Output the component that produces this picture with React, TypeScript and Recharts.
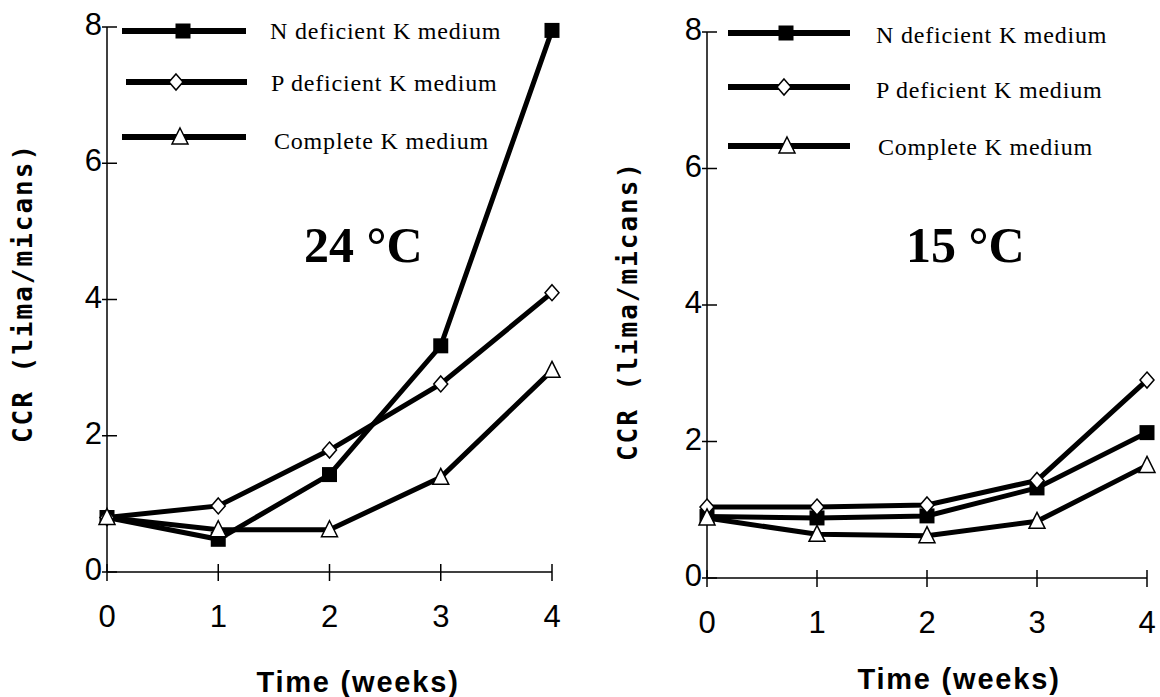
import React from "react";
import { LineChart, Line, XAxis, YAxis } from "recharts";

const weeks = [0, 1, 2, 3, 4];
const yTicks = [0, 2, 4, 6, 8];
const seriesNames = ["N deficient K medium", "P deficient K medium", "Complete K medium"];

// 24 °C
const n24 = [0.8, 0.48, 1.43, 3.32, 7.95];
const p24 = [0.8, 0.97, 1.79, 2.76, 4.1];
const c24 = [0.8, 0.62, 0.62, 1.39, 2.96];

// 15 °C
const n15 = [0.9, 0.88, 0.91, 1.32, 2.13];
const p15 = [1.04, 1.04, 1.07, 1.43, 2.9];
const c15 = [0.88, 0.64, 0.62, 0.83, 1.65];

const SANS = "'Liberation Sans', Arial, sans-serif";
const SERIF = "'Liberation Serif', 'Times New Roman', serif";

type Pt = { cx?: number; cy?: number };

const Square = ({ cx, cy }: Pt) =>
  cx == null || cy == null ? null : <rect x={cx - 7.5} y={cy - 7.5} width={15} height={15} fill="#000" />;

const Diamond = ({ cx, cy }: Pt) =>
  cx == null || cy == null ? null : (
    <path d={`M${cx},${cy - 8}L${cx + 7},${cy}L${cx},${cy + 8}L${cx - 7},${cy}Z`} fill="#fff" stroke="#000" strokeWidth={1.5} />
  );

const Triangle = ({ cx, cy }: Pt) =>
  cx == null || cy == null ? null : (
    <path d={`M${cx},${cy - 9}L${cx + 8},${cy + 7}L${cx - 8},${cy + 7}Z`} fill="#fff" stroke="#000" strokeWidth={1.5} />
  );

const shapes = [Square, Diamond, Triangle];
const keys = ["n", "p", "c"];

type Layout = {
  left: number;
  yAxisW: number;
  top: number;
  right: number;
  xAxisH: number;
  yLabel: [number, number];
  xLabel: [number, number];
  title: string;
  titlePos: [number, number];
  legendLines: { x1: number; x2: number; mx: number; y: number }[];
  legendText: { x: number; y: number }[];
};

function Panel({ vals, lay }: { vals: number[][]; lay: Layout }) {
  const rows = weeks.map((w, i) => ({ week: w, n: vals[0][i], p: vals[1][i], c: vals[2][i] }));
  return (
    <div style={{ position: "absolute", left: lay.left, top: 0, width: 580, height: 697 }}>
      <LineChart width={580} height={697} data={rows} margin={{ top: lay.top, right: lay.right, left: 0, bottom: 0 }}>
        <XAxis
          dataKey="week"
          type="number"
          domain={[0, 4]}
          ticks={weeks}
          height={lay.xAxisH}
          axisLine={{ stroke: "#000", strokeWidth: 1.5 }}
          tickLine={{ stroke: "#000", strokeWidth: 1.5, transform: "translate(0,-8)" }}
          tickSize={17}
          tickMargin={0}
          tick={(p: any) => (
            <text key={p.index} x={p.x} y={p.y + 38} textAnchor="middle" fontFamily={SANS} fontSize={31} fill="#000">
              {p.payload.value}
            </text>
          )}
          label={{
            content: () => (
              <text x={lay.xLabel[0]} y={lay.xLabel[1]} textAnchor="middle" fontFamily={SANS} fontWeight="bold" fontSize={29} letterSpacing={1.8} fill="#000">
                Time (weeks)
              </text>
            ),
          }}
        />
        <YAxis
          type="number"
          domain={[0, 8]}
          ticks={yTicks}
          width={lay.yAxisW}
          axisLine={{ stroke: "#000", strokeWidth: 1.5 }}
          tickLine={{ stroke: "#000", strokeWidth: 1.5, transform: "translate(10,0)" }}
          tickSize={15}
          tickMargin={0}
          tick={(p: any) => (
            <text key={p.index} x={p.x + 10} y={p.y + 8} textAnchor="end" fontFamily={SANS} fontSize={31} fill="#000">
              {p.payload.value}
            </text>
          )}
          label={{
            content: () => (
              <text
                transform={`translate(${lay.yLabel[0]},${lay.yLabel[1]}) rotate(-90)`}
                textAnchor="middle"
                dominantBaseline="central"
                fontFamily="'DejaVu Sans Mono', monospace"
                fontWeight="bold"
                fontSize={26}
                letterSpacing={2}
                fill="#000"
              >
                CCR (lima/micans)
              </text>
            ),
          }}
        />
        {keys.map((k, i) => {
          const Shape = shapes[i];
          return (
            <Line
              key={k}
              dataKey={k}
              type="linear"
              stroke="#000"
              strokeWidth={5}
              isAnimationActive={false}
              dot={(p: any) => <Shape key={p.index} cx={p.cx} cy={p.cy} />}
              activeDot={false}
            />
          );
        })}
      </LineChart>
      <svg width={580} height={697} style={{ position: "absolute", left: 0, top: 0, pointerEvents: "none" }}>
        {seriesNames.map((name, i) => {
          const Shape = shapes[i];
          const l = lay.legendLines[i];
          const t = lay.legendText[i];
          return (
            <g key={name}>
              <line x1={l.x1} x2={l.x2} y1={l.y} y2={l.y} stroke="#000" strokeWidth={6} />
              <Shape cx={l.mx} cy={l.y} />
              <text x={t.x} y={t.y} fontFamily={SERIF} fontSize={24} letterSpacing={0.8} fill="#000">
                {name}
              </text>
            </g>
          );
        })}
        <text x={lay.titlePos[0]} y={lay.titlePos[1]} fontFamily={SERIF} fontWeight="bold" fontSize={50} fill="#000">
          {lay.title}
        </text>
      </svg>
    </div>
  );
}

const leftLayout: Layout = {
  left: 0,
  yAxisW: 107,
  top: 27,
  right: 28,
  xAxisH: 125,
  yLabel: [23, 293],
  xLabel: [358, 692],
  title: "24 °C",
  titlePos: [304, 262],
  legendLines: [
    { x1: 122, x2: 246, mx: 183, y: 31 },
    { x1: 126, x2: 247, mx: 176, y: 82 },
    { x1: 122, x2: 246, mx: 180, y: 137 },
  ],
  legendText: [
    { x: 270, y: 39 },
    { x: 271, y: 91 },
    { x: 274, y: 149 },
  ],
};

const rightLayout: Layout = {
  left: 580,
  yAxisW: 127,
  top: 32,
  right: 13,
  xAxisH: 119,
  yLabel: [48, 311],
  xLabel: [379, 689],
  title: "15 °C",
  titlePos: [326, 262],
  legendLines: [
    { x1: 148, x2: 270, mx: 206, y: 33 },
    { x1: 148, x2: 270, mx: 204, y: 87 },
    { x1: 148, x2: 270, mx: 207, y: 146 },
  ],
  legendText: [
    { x: 296, y: 43 },
    { x: 296, y: 98 },
    { x: 298, y: 155 },
  ],
};

export default function App() {
  return (
    <div style={{ position: "absolute", left: 0, top: 0, width: 1160, height: 697, overflow: "hidden", background: "#fff" }}>
      <Panel vals={[n24, p24, c24]} lay={leftLayout} />
      <Panel vals={[n15, p15, c15]} lay={rightLayout} />
    </div>
  );
}
